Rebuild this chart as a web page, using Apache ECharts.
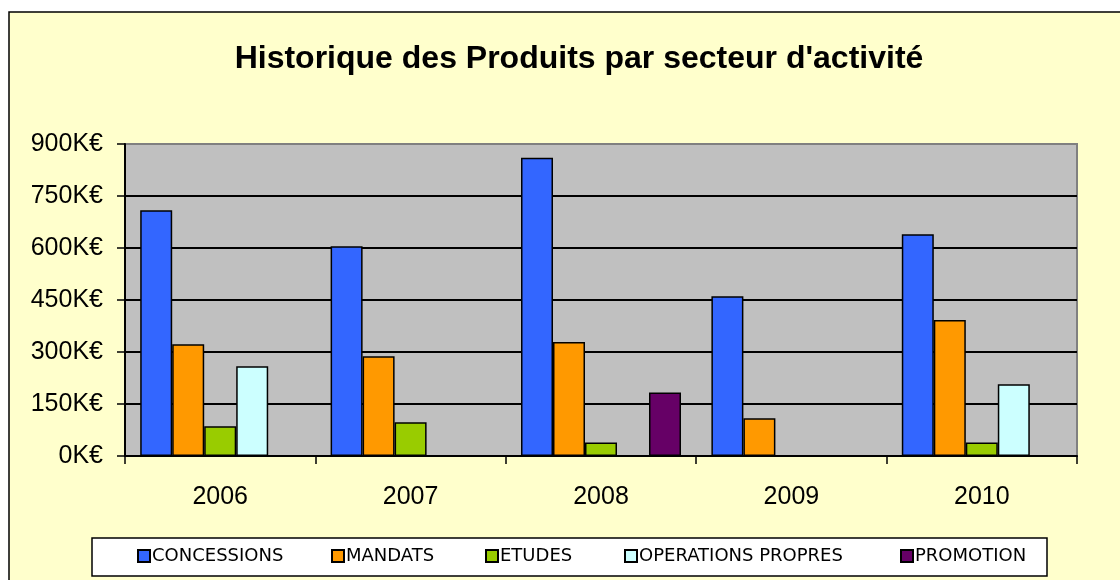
<!DOCTYPE html>
<html>
<head>
<meta charset="utf-8">
<script src="https://cdn.jsdelivr.net/npm/echarts@6/dist/echarts.min.js"></script>
<style>
  html, body { margin: 0; padding: 0; background: #fff; }
  #main { width: 1120px; height: 580px; }
</style>
</head>
<body>
<div id="main"></div>
<script>
var years = ['2006', '2007', '2008', '2009', '2010'];
var yTicks = [0, 150, 300, 450, 600, 750, 900];
// K€, '-' = pas de valeur
var concessions = [709, 605, 860, 461, 640];
var mandats = [322, 288, 329, 109, 392];
var etudes = [86, 97, 39, '-', 39];
var operationsPropres = [259, '-', '-', '-', 207];
var promotion = ['-', '-', 183, '-', '-'];

var seriesNames = ['CONCESSIONS', 'MANDATS', 'ETUDES', 'OPERATIONS PROPRES', 'PROMOTION'];
var seriesData = [concessions, mandats, etudes, operationsPropres, promotion];
var colors = ['#3366FF', '#FF9900', '#99CC00', '#CCFFFF', '#660066'];
var legendLeft = [137, 331, 485, 624, 900];

var chart = echarts.init(document.getElementById('main'));

var series = [];
for (var i = 0; i < seriesNames.length; i++) {
  series.push({
    name: seriesNames[i],
    type: 'bar',
    data: seriesData[i],
    barWidth: 32,
    barGap: '0%',
    itemStyle: {
      color: colors[i],
      borderColor: '#000',
      borderWidth: 1.5
    },
    emphasis: { disabled: true }
  });
}

// une légende par série pour placer chaque entrée comme dans Excel
var legends = [];
for (var j = 0; j < seriesNames.length; j++) {
  legends.push({
    data: [seriesNames[j]],
    left: legendLeft[j],
    top: 547,
    padding: 0,
    icon: 'rect',
    itemWidth: 12,
    itemHeight: 12,
    itemGap: 0,
    textStyle: {
      fontFamily: 'DejaVu Sans',
      fontSize: 18,
      color: '#000',
      padding: [0, 0, 0, -3]
    }
  });
}

var option = {
  backgroundColor: '#fff',
  animation: false,
  color: colors,
  title: {
    text: "Historique des Produits par secteur d'activité",
    left: 574,
    textAlign: 'center',
    top: 38,
    textStyle: {
      fontFamily: 'Liberation Sans',
      fontWeight: 'bold',
      fontSize: 32,
      color: '#000'
    }
  },
  graphic: [
    {
      type: 'rect',
      z: -10,
      shape: { x: 9, y: 12, width: 1120, height: 600 },
      style: { fill: '#FFFFCC', stroke: '#000', lineWidth: 1.5 }
    },
    {
      type: 'rect',
      z: -5,
      shape: { x: 92, y: 538, width: 955, height: 38 },
      style: { fill: '#fff', stroke: '#000', lineWidth: 1.5 }
    }
  ],
  legend: legends,
  grid: {
    left: 125,
    top: 144,
    right: 43,
    bottom: 124,
    show: true,
    backgroundColor: '#C0C0C0',
    borderColor: '#808080',
    borderWidth: 2
  },
  xAxis: {
    type: 'category',
    data: years,
    axisLine: { lineStyle: { color: '#000', width: 2 } },
    axisTick: { show: true, length: 8, lineStyle: { color: '#000', width: 1.5 } },
    axisLabel: {
      fontFamily: 'Liberation Sans',
      fontSize: 25,
      color: '#000',
      margin: 29
    }
  },
  yAxis: {
    type: 'value',
    min: yTicks[0],
    max: yTicks[yTicks.length - 1],
    interval: 150,
    axisLine: { show: true, lineStyle: { color: '#000', width: 2 } },
    axisTick: { show: true, length: 8, lineStyle: { color: '#000', width: 1.5 } },
    axisLabel: {
      fontFamily: 'Liberation Sans',
      fontSize: 25,
      color: '#000',
      margin: 22,
      formatter: function (v) { return v + 'K€'; }
    },
    splitLine: {
      lineStyle: {
        color: ['#000', '#000', '#000', '#000', '#000', '#000', '#808080'],
        width: 2
      }
    }
  },
  series: series
};

chart.setOption(option);
</script>
</body>
</html>
